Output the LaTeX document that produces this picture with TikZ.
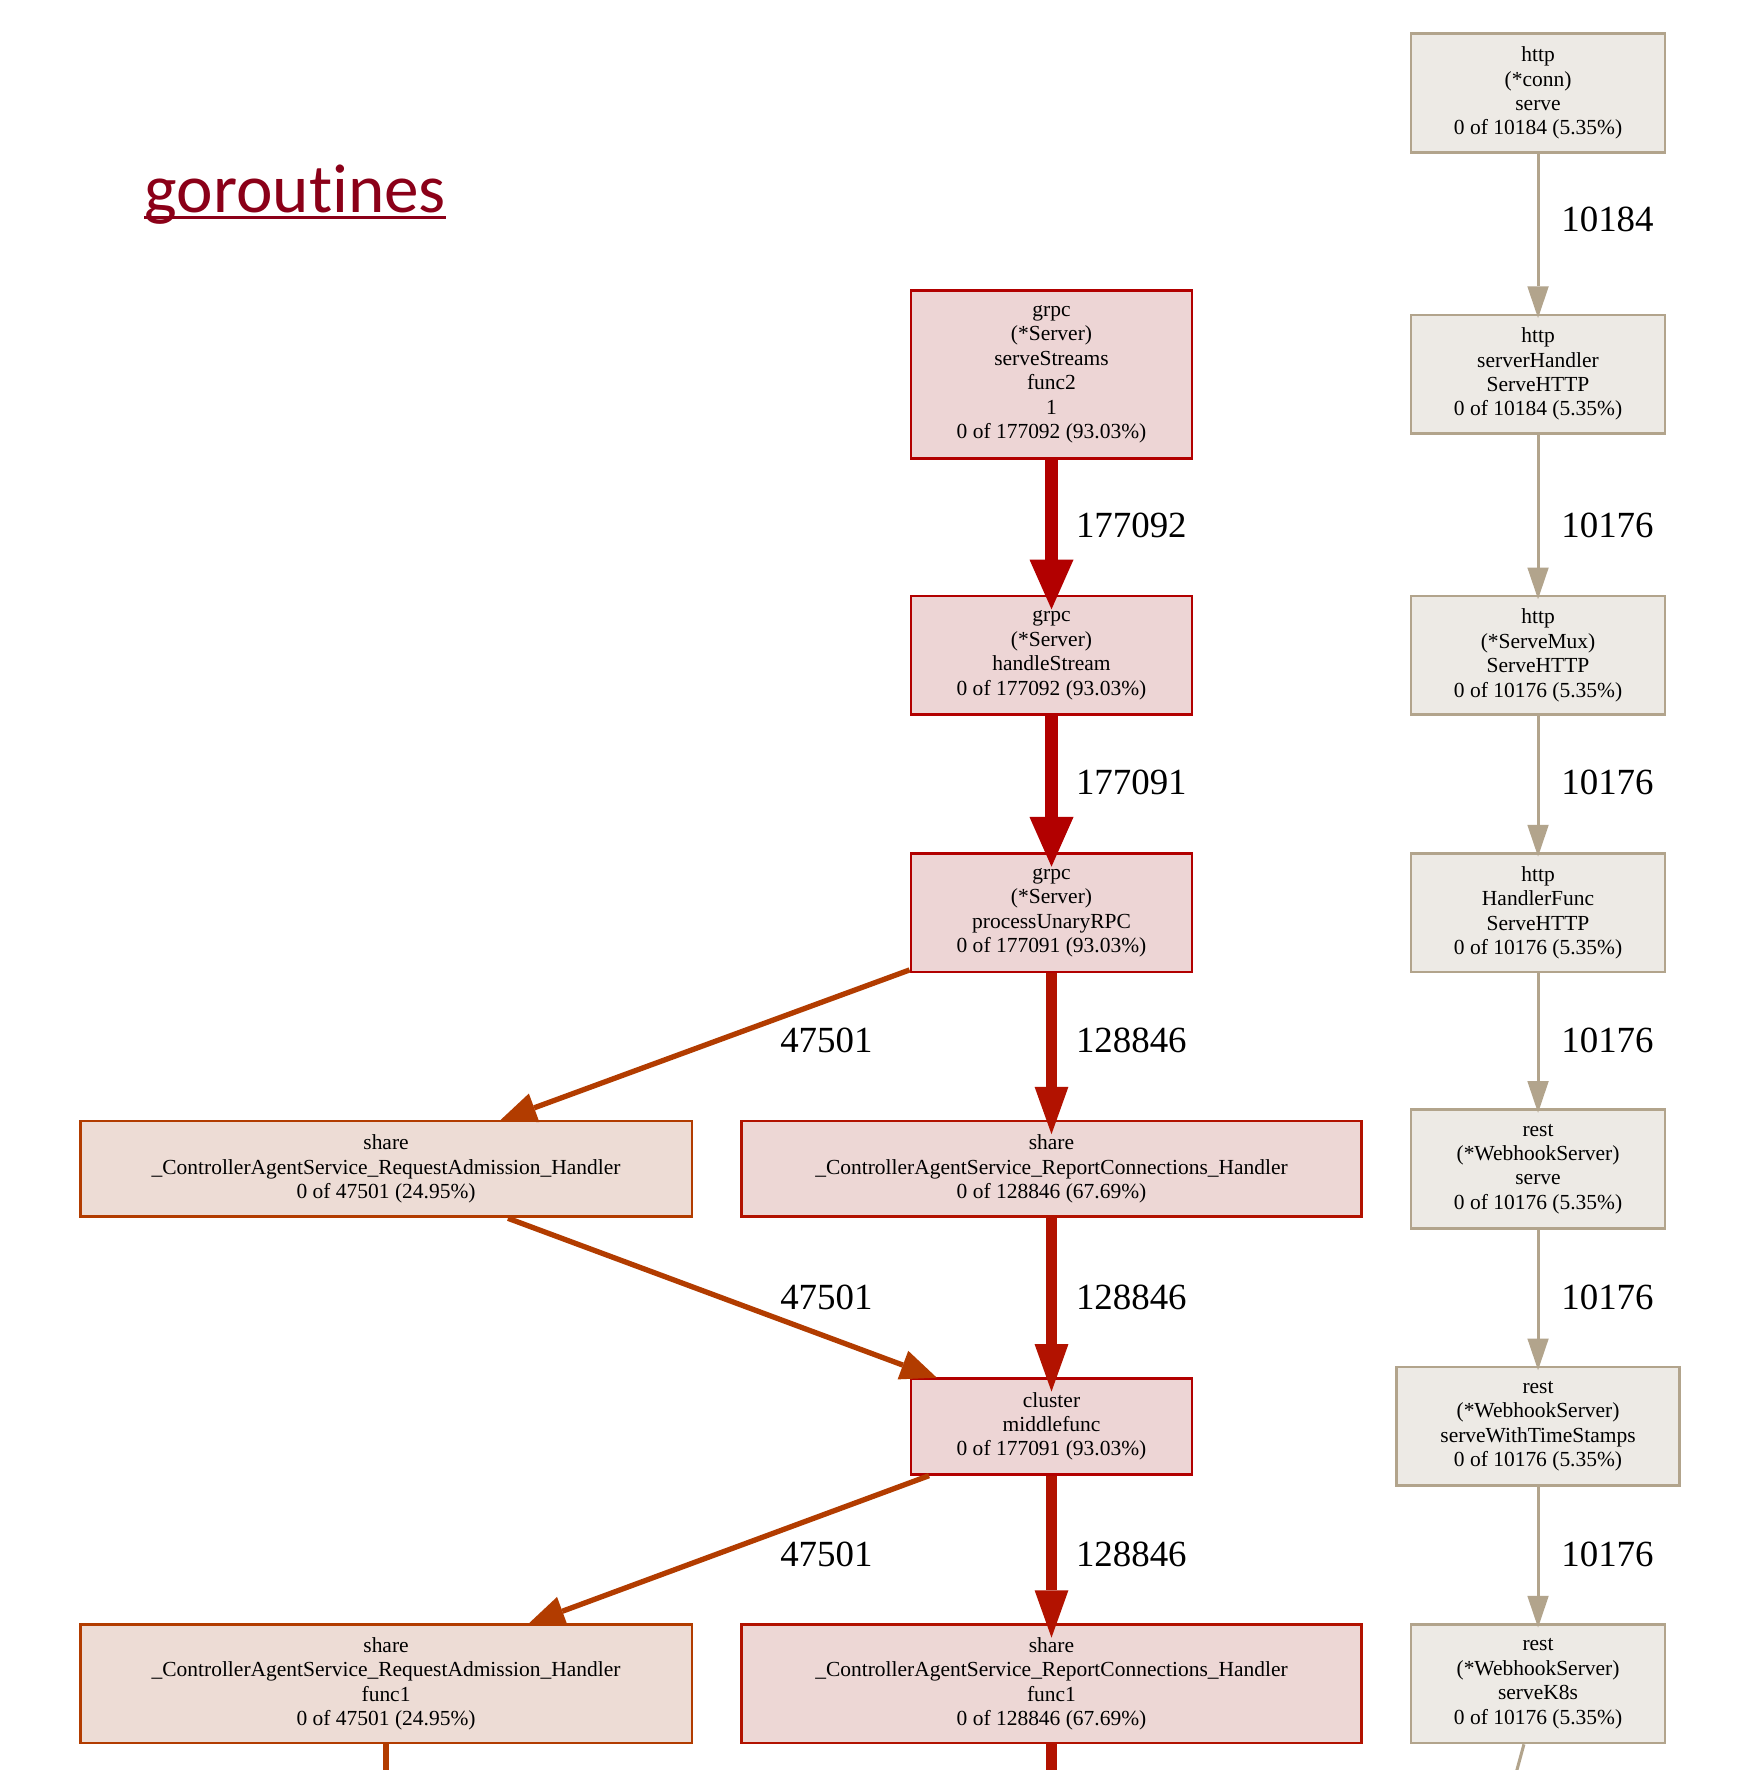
\documentclass[tikz,border=0pt]{standalone}
\usepackage{fontspec}
\setmainfont{Liberation Serif}
\newfontfamily\titlefont[Ligatures=NoCommon,RawFeature={-liga;-clig}]{Carlito}
\usetikzlibrary{arrows.meta}
\definecolor{redE}{RGB}{178,0,0}
\definecolor{redEb}{RGB}{178,18,0}
\definecolor{orE}{RGB}{178,60,0}
\definecolor{tanE}{RGB}{178,164,140}
\definecolor{redF}{RGB}{237,213,213}
\definecolor{redFb}{RGB}{237,215,213}
\definecolor{orF}{RGB}{237,220,213}
\definecolor{tanF}{RGB}{237,234,229}
\definecolor{titleC}{RGB}{139,0,24}
\tikzset{
  box/.style={draw, rectangle, inner sep=0pt, line width=2.5bp, align=center,
    font=\fontsize{19.1}{21.7}\selectfont},
  redbox/.style={box, draw=redE, fill=redF},
  redboxb/.style={box, draw=redEb, fill=redFb},
  orbox/.style={box, draw=orE, fill=orF},
  tanbox/.style={box, draw=tanE, fill=tanF, minimum width=225bp},
  elab/.style={font=\fontsize{32.8}{36}\selectfont, anchor=base west, inner sep=0pt},
  bigedge/.style={draw=redE, line width=11.8bp, shorten >=-13bp,
    -{Triangle[length=44bp,width=39bp,line width=0pt]}},
  mededge/.style={draw=redEb, line width=9.5bp, shorten >=-13bp,
    -{Triangle[length=42bp,width=30bp,line width=0pt]}},
  oredge/.style={draw=orE, line width=4.7bp, shorten >=-2bp,
    -{Triangle[length=32bp,width=27bp,line width=0pt]}},
  tanedge/.style={draw=tanE, line width=2.7bp, shorten >=-4bp,
    -{Triangle[length=28bp,width=19bp,line width=0pt]}},
}
\begin{document}
\begin{tikzpicture}[x=1bp,y=-1bp]
\useasboundingbox[fill=white] (0,0) rectangle (1543,1568);
% title
\node[anchor=base west, inner sep=0pt, text=titleC,
  font=\titlefont\fontsize{61.5}{72}\selectfont] (title) at (128,188) {goroutines};
\draw[titleC, line width=2.6bp] ([yshift=-5bp]title.base west) -- ([yshift=-5bp]title.base east);
% right column
\node[tanbox, minimum height=105bp] (hc) at (1362.5,82.5) {http\\(*conn)\\serve\\0 of 10184 (5.35\%)};
\node[tanbox, minimum height=105bp] (sh) at (1362.5,331.5) {http\\serverHandler\\ServeHTTP\\0 of 10184 (5.35\%)};
\node[tanbox, minimum height=105bp] (sm) at (1362.5,580.5) {http\\(*ServeMux)\\ServeHTTP\\0 of 10176 (5.35\%)};
\node[tanbox, minimum height=105bp] (hf) at (1362.5,808.5) {http\\HandlerFunc\\ServeHTTP\\0 of 10176 (5.35\%)};
\node[tanbox, minimum height=105bp] (rs) at (1362.5,1035.5) {rest\\(*WebhookServer)\\serve\\0 of 10176 (5.35\%)};
\node[tanbox, minimum width=251bp, minimum height=105bp] (st) at (1362.5,1263.5) {rest\\(*WebhookServer)\\serveWithTimeStamps\\0 of 10176 (5.35\%)};
\node[tanbox, minimum height=105bp] (k8) at (1362.5,1491.5) {rest\\(*WebhookServer)\\serveK8s\\0 of 10176 (5.35\%)};
% middle column
\node[redbox, minimum width=249bp, minimum height=149bp] (ss) at (931.5,331.5) {grpc\\(*Server)\\serveStreams\\func2\\1\\0 of 177092 (93.03\%)};
\node[redbox, minimum width=249bp, minimum height=105bp] (hs) at (931.5,580.5) {grpc\\(*Server)\\handleStream\\0 of 177092 (93.03\%)};
\node[redbox, minimum width=249bp, minimum height=105bp] (pu) at (931.5,808.5) {grpc\\(*Server)\\processUnaryRPC\\0 of 177091 (93.03\%)};
\node[redboxb, minimum width=549bp, minimum height=85bp] (rc) at (931.5,1035.5) {share\\\_ControllerAgentService\_ReportConnections\_Handler\\0 of 128846 (67.69\%)};
\node[redbox, minimum width=249bp, minimum height=85bp] (cm) at (931.5,1263.5) {cluster\\middlefunc\\0 of 177091 (93.03\%)};
\node[redboxb, minimum width=549bp, minimum height=105bp] (rcf) at (931.5,1491.5) {share\\\_ControllerAgentService\_ReportConnections\_Handler\\func1\\0 of 128846 (67.69\%)};
% left column
\node[orbox, minimum width=542bp, minimum height=85bp] (ra) at (342,1035.5) {share\\\_ControllerAgentService\_RequestAdmission\_Handler\\0 of 47501 (24.95\%)};
\node[orbox, minimum width=542bp, minimum height=105bp] (raf) at (342,1491.5) {share\\\_ControllerAgentService\_RequestAdmission\_Handler\\func1\\0 of 47501 (24.95\%)};
% dangling ends
\coordinate (b1) at (342,1580);
\coordinate (b2) at (931.5,1580);
\coordinate (b3) at (1340.5,1580);
% right edges
\draw[tanedge] (hc) -- (sh);
\draw[tanedge] (sh) -- (sm);
\draw[tanedge] (sm) -- (hf);
\draw[tanedge] (hf) -- (rs);
\draw[tanedge] (rs) -- (st);
\draw[tanedge] (st) -- (k8);
\draw[draw=tanE, line width=2.7bp] ([xshift=-12.5bp]k8.south) -- (b3);
% middle edges
\draw[bigedge] (ss) -- (hs);
\draw[bigedge] (hs) -- (pu);
\draw[mededge] (pu) -- (rc);
\draw[mededge] (rc) -- (cm);
\draw[mededge] (cm) -- (rcf);
\draw[draw=redEb, line width=9.5bp] (rcf) -- (b2);
% left edges
\draw[oredge] ([yshift=3bp]pu.south west) -- ([xshift=103bp]ra.north);
\draw[oredge] ([xshift=108bp]ra.south) -- ([xshift=-103.5bp]cm.north);
\draw[oredge] ([xshift=-108.5bp]cm.south) -- ([xshift=128bp]raf.north);
\draw[draw=orE, line width=4.7bp] (raf) -- (b1);
% edge labels
\node[elab] (l1) at (1383,205) {10184};
\node[elab] (l2) at (1383,476) {10176};
\node[elab] (l3) at (1383,704) {10176};
\node[elab] (l4) at (1383,932) {10176};
\node[elab] (l5) at (1383,1160) {10176};
\node[elab] (l6) at (1383,1388) {10176};
\node[elab] (m1) at (953,476) {177092};
\node[elab] (m2) at (953,704) {177091};
\node[elab] (m3) at (953,932) {128846};
\node[elab] (m4) at (953,1160) {128846};
\node[elab] (m5) at (953,1388) {128846};
\node[elab] (o1) at (691,932) {47501};
\node[elab] (o2) at (691,1160) {47501};
\node[elab] (o3) at (691,1388) {47501};
\end{tikzpicture}
\end{document}
